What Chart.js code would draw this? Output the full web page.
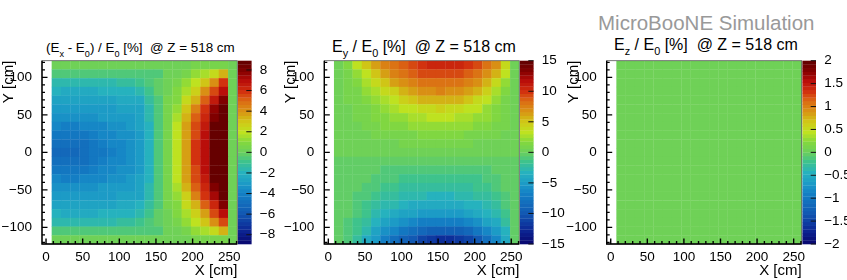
<!DOCTYPE html>
<html>
<head>
<meta charset="utf-8">
<script src="https://cdn.jsdelivr.net/npm/chart.js@4"></script>
<style>
html, body {margin:0; padding:0; background:#fff; width:847px; height:280px; overflow:hidden;}
canvas {position:absolute; top:0;}
.t {position:absolute; white-space:nowrap; font-family:"Liberation Sans", sans-serif; color:#000; line-height:1;}
.t sub {font-size:68%; line-height:0; vertical-align:baseline; position:relative; top:5px;}
</style>
</head>
<body>
<div class="t" style="left:598px;top:13px;font-size:20.5px;color:#999">MicroBooNE Simulation</div>
<div class="t" style="left:46px;top:41px;font-size:13.4px">(E<sub>x</sub> - E<sub>0</sub>) / E<sub>0</sub> [%]&nbsp; @ Z = 518 cm</div>
<div class="t" style="left:332px;top:39px;font-size:16px">E<sub>y</sub> / E<sub>0</sub> [%]&nbsp; @ Z = 518 cm</div>
<div class="t" style="left:614px;top:37px;font-size:16px">E<sub>z</sub> / E<sub>0</sub> [%]&nbsp; @ Z = 518 cm</div>
<canvas id="c0" width="282" height="280" style="left:0"></canvas>
<canvas id="c1" width="283" height="280" style="left:282px"></canvas>
<canvas id="c2" width="282" height="280" style="left:565px"></canvas>
<script>
//bin low edges in cm
const xBins = [7.7,20.4,33.0,45.7,58.4,71.0,83.7,96.4,109.0,121.7,134.4,147.0,159.7,172.4,185.0,197.7,210.4,223.0,235.7,248.4];
const xBinWidth = 12.66;
const yBins = [-122.2,-110.6,-99,-87.3,-75.7,-64,-52.4,-40.7,-29.1,-17.5,-5.8,5.8,17.5,29.1,40.7,52.4,64,75.7,87.3,99,110.6];
const yBinWidth = 11.64;

//cell values in percent, first row is the top of the picture
const exValues = [
[0.2,0.2,0.2,0.2,0.2,0.2,0.2,0.2,0.2,0.2,0.2,0.2,0.2,0.3,0.3,0.4,0.5,0.6,0.6,0.2],
[-0.7,-0.7,-0.7,-0.7,-0.7,-0.7,-0.7,-0.7,-0.7,-0.6,-0.5,-0.4,0.0,0.3,0.7,1.1,1.6,2.3,3.5,0.2],
[-1.6,-1.6,-1.7,-1.7,-1.7,-1.6,-1.5,-1.4,-1.3,-1.0,-0.6,-0.2,0.2,0.6,1.2,2.0,3.0,4.2,5.7,0.2],
[-2.1,-2.2,-2.2,-2.2,-2.2,-2.1,-2.1,-2.0,-1.9,-1.6,-1.0,-0.3,0.3,0.8,1.6,2.7,4.0,5.5,6.8,0.2],
[-2.6,-2.7,-2.7,-2.7,-2.6,-2.6,-2.5,-2.4,-2.3,-2.2,-1.4,-0.4,0.4,1.0,2.3,3.5,5.2,6.5,8.0,0.3],
[-3.0,-3.1,-3.1,-3.0,-3.0,-2.9,-2.9,-2.8,-2.7,-2.5,-1.6,-0.5,0.5,1.3,2.9,4.5,6.0,7.5,8.7,0.3],
[-3.4,-3.5,-3.5,-3.4,-3.3,-3.2,-3.1,-3.0,-2.9,-2.7,-1.7,-0.5,0.6,1.6,3.3,5.0,6.4,8.1,9.0,0.3],
[-3.9,-4.0,-4.0,-3.9,-3.7,-3.6,-3.5,-3.3,-3.1,-2.8,-1.8,-0.6,0.6,1.9,3.7,5.4,6.7,8.6,9.0,0.3],
[-4.4,-4.5,-4.5,-4.3,-4.1,-3.9,-3.7,-3.5,-3.3,-2.9,-1.9,-0.6,0.7,2.0,3.8,5.6,6.9,9.0,9.0,0.3],
[-4.8,-4.9,-4.9,-4.7,-4.4,-4.2,-3.9,-3.7,-3.4,-2.9,-1.9,-0.6,0.7,2.1,3.9,5.7,7.0,9.0,9.0,0.3],
[-5.0,-5.1,-5.1,-4.9,-4.6,-4.3,-4.0,-3.7,-3.4,-2.9,-1.9,-0.6,0.7,2.1,3.9,5.7,7.0,9.0,9.0,0.3],
[-4.8,-4.9,-4.9,-4.7,-4.4,-4.2,-3.9,-3.7,-3.4,-2.9,-1.9,-0.6,0.7,2.1,3.9,5.7,7.0,9.0,9.0,0.3],
[-4.4,-4.5,-4.5,-4.3,-4.1,-3.9,-3.7,-3.5,-3.3,-2.9,-1.9,-0.6,0.7,2.0,3.8,5.6,6.9,9.0,9.0,0.3],
[-3.9,-4.0,-4.0,-3.9,-3.7,-3.6,-3.5,-3.3,-3.1,-2.8,-1.8,-0.6,0.6,1.9,3.7,5.4,6.7,8.6,9.0,0.3],
[-3.4,-3.5,-3.5,-3.4,-3.3,-3.2,-3.1,-3.0,-2.9,-2.7,-1.7,-0.5,0.6,1.6,3.3,5.0,6.4,8.0,8.9,0.3],
[-3.0,-3.1,-3.1,-3.0,-3.0,-2.9,-2.9,-2.8,-2.7,-2.5,-1.6,-0.5,0.5,1.3,2.8,4.3,5.9,7.4,8.6,0.3],
[-2.6,-2.7,-2.7,-2.7,-2.6,-2.6,-2.5,-2.4,-2.3,-2.1,-1.4,-0.4,0.4,1.0,2.2,3.4,5.0,6.4,8.0,0.3],
[-2.1,-2.2,-2.2,-2.2,-2.2,-2.1,-2.1,-2.0,-1.9,-1.6,-1.0,-0.3,0.3,0.8,1.5,2.6,3.9,5.4,6.8,0.2],
[-1.6,-1.6,-1.7,-1.7,-1.7,-1.6,-1.5,-1.4,-1.3,-1.0,-0.6,-0.2,0.2,0.6,1.2,1.9,2.9,4.1,5.6,0.2],
[-0.7,-0.7,-0.7,-0.7,-0.7,-0.7,-0.7,-0.7,-0.7,-0.6,-0.5,-0.4,0.0,0.3,0.7,1.1,1.6,2.3,3.4,0.2],
[0.2,0.2,0.2,0.2,0.2,0.2,0.2,0.2,0.2,0.2,0.2,0.2,0.2,0.3,0.3,0.4,0.5,0.6,0.6,0.2]
];
const eyValues = [
[0.5,1.5,3.0,5.0,6.0,7.5,8.0,8.6,9.2,9.7,10.3,10.6,10.6,10.3,9.9,9.1,8.0,6.8,3.8,0.5],
[0.4,1.0,2.0,3.3,5.0,6.3,7.2,8.0,8.5,9.0,9.2,9.3,9.2,9.0,8.5,8.0,7.0,5.5,3.0,0.5],
[0.3,0.8,1.5,2.6,3.6,5.0,6.0,7.0,7.6,8.0,8.2,8.3,8.2,8.0,7.5,6.8,5.6,3.8,2.0,0.4],
[0.3,0.7,1.2,2.0,2.8,3.6,4.6,5.6,6.4,6.9,7.1,7.2,7.1,6.8,6.2,5.4,4.2,2.8,1.5,0.3],
[0.3,0.6,1.0,1.6,2.2,2.8,3.4,4.2,4.9,5.5,5.8,5.9,5.8,5.4,4.8,4.0,3.1,2.2,1.2,0.3],
[0.2,0.5,0.8,1.2,1.7,2.2,2.7,3.1,3.5,3.9,4.1,4.2,4.1,3.9,3.5,3.0,2.4,1.7,1.0,0.3],
[0.2,0.4,0.7,1.0,1.3,1.7,2.0,2.4,2.6,2.8,3.0,3.0,3.0,2.8,2.5,2.2,1.8,1.3,0.8,0.2],
[0.2,0.3,0.5,0.8,1.0,1.3,1.5,1.7,1.9,2.0,2.1,2.1,2.1,2.0,1.8,1.6,1.3,1.0,0.6,0.2],
[0.1,0.2,0.4,0.5,0.7,0.9,1.0,1.1,1.2,1.3,1.4,1.4,1.4,1.3,1.2,1.1,0.9,0.7,0.4,0.2],
[0.1,0.1,0.2,0.3,0.4,0.5,0.5,0.6,0.6,0.7,0.7,0.7,0.7,0.6,0.6,0.5,0.4,0.3,0.2,0.1],
[0.0,0.0,0.0,0.0,0.0,0.0,0.0,0.0,0.0,0.0,0.0,0.0,0.0,0.0,0.0,0.0,0.0,0.0,0.0,0.0],
[-0.1,-0.1,-0.2,-0.3,-0.3,-0.4,-0.4,-0.5,-0.5,-0.5,-0.6,-0.6,-0.6,-0.5,-0.5,-0.4,-0.4,-0.3,-0.2,-0.1],
[-0.1,-0.2,-0.3,-0.4,-0.6,-0.7,-0.8,-0.9,-1.0,-1.1,-1.2,-1.2,-1.2,-1.1,-1.0,-0.9,-0.7,-0.5,-0.3,-0.1],
[-0.2,-0.3,-0.4,-0.6,-0.8,-1.0,-1.2,-1.4,-1.6,-1.7,-1.8,-1.8,-1.8,-1.7,-1.5,-1.3,-1.1,-0.8,-0.4,-0.2],
[-0.2,-0.3,-0.6,-0.9,-1.2,-1.4,-1.7,-2.0,-2.2,-2.3,-2.4,-2.4,-2.4,-2.3,-2.1,-1.8,-1.5,-1.1,-0.6,-0.2],
[-0.2,-0.4,-0.8,-1.2,-1.6,-2.0,-2.4,-2.7,-2.9,-3.0,-3.1,-3.1,-3.1,-3.0,-2.8,-2.4,-2.0,-1.5,-0.8,-0.3],
[-0.3,-0.5,-0.9,-1.5,-2.0,-2.5,-3.0,-3.4,-3.7,-3.9,-4.0,-4.0,-4.0,-3.9,-3.6,-3.2,-2.7,-2.0,-1.2,-0.3],
[-0.3,-0.6,-1.1,-1.8,-2.6,-3.3,-3.9,-4.4,-4.8,-5.1,-5.3,-5.3,-5.3,-5.1,-4.7,-4.2,-3.5,-2.6,-1.6,-0.4],
[-0.3,-0.7,-1.4,-2.4,-3.4,-4.4,-5.2,-5.8,-6.3,-6.7,-7.0,-7.1,-7.0,-6.7,-6.2,-5.6,-4.8,-3.7,-2.2,-0.4],
[-0.3,-0.9,-1.7,-3.0,-4.3,-5.5,-6.5,-7.4,-8.1,-8.8,-9.4,-9.6,-9.5,-9.2,-8.6,-7.7,-6.5,-5.0,-3.1,-0.5],
[-0.4,-1.0,-2.4,-3.8,-5.4,-6.8,-8.0,-9.2,-10.2,-11.0,-11.8,-12.3,-12.4,-12.0,-11.2,-9.9,-8.3,-6.4,-3.8,-0.6]
];
const ezValues = [
[0,0,0,0,0,0,0,0,0,0,0,0,0,0,0,0,0,0,0,0],
[0,0,0,0,0,0,0,0,0,0,0,0,0,0,0,0,0,0,0,0],
[0,0,0,0,0,0,0,0,0,0,0,0,0,0,0,0,0,0,0,0],
[0,0,0,0,0,0,0,0,0,0,0,0,0,0,0,0,0,0,0,0],
[0,0,0,0,0,0,0,0,0,0,0,0,0,0,0,0,0,0,0,0],
[0,0,0,0,0,0,0,0,0,0,0,0,0,0,0,0,0,0,0,0],
[0,0,0,0,0,0,0,0,0,0,0,0,0,0,0,0,0,0,0,0],
[0,0,0,0,0,0,0,0,0,0,0,0,0,0,0,0,0,0,0,0],
[0,0,0,0,0,0,0,0,0,0,0,0,0,0,0,0,0,0,0,0],
[0,0,0,0,0,0,0,0,0,0,0,0,0,0,0,0,0,0,0,0],
[0,0,0,0,0,0,0,0,0,0,0,0,0,0,0,0,0,0,0,0],
[0,0,0,0,0,0,0,0,0,0,0,0,0,0,0,0,0,0,0,0],
[0,0,0,0,0,0,0,0,0,0,0,0,0,0,0,0,0,0,0,0],
[0,0,0,0,0,0,0,0,0,0,0,0,0,0,0,0,0,0,0,0],
[0,0,0,0,0,0,0,0,0,0,0,0,0,0,0,0,0,0,0,0],
[0,0,0,0,0,0,0,0,0,0,0,0,0,0,0,0,0,0,0,0],
[0,0,0,0,0,0,0,0,0,0,0,0,0,0,0,0,0,0,0,0],
[0,0,0,0,0,0,0,0,0,0,0,0,0,0,0,0,0,0,0,0],
[0,0,0,0,0,0,0,0,0,0,0,0,0,0,0,0,0,0,0,0],
[0,0,0,0,0,0,0,0,0,0,0,0,0,0,0,0,0,0,0,0],
[0,0,0,0,0,0,0,0,0,0,0,0,0,0,0,0,0,0,0,0]
];
const zLimits = [8.9, 15, 2];
const zSteps = [2, 5, 0.5];

//Palette colours and where they sit from bottom to top of the colour bar
const PALETTE = [[8,6,110],[12,40,150],[18,88,178],[20,130,198],[28,155,198],[38,178,190],[62,195,140],[107,208,92],[130,216,62],[190,226,32],[208,200,22],[216,150,20],[220,108,20],[210,50,15],[185,14,10],[135,0,0],[95,0,0]];
const PALETTE_POS = [0,0.08,0.167,0.28,0.33,0.39,0.45,0.5,0.556,0.61,0.667,0.72,0.78,0.83,0.89,0.94,1];
const N_BANDS = 50;

function bandColor(t) {
    //the palette is cut in N_BANDS steps, like the root colour bar
    var k = Math.min(N_BANDS - 1, Math.max(0, Math.floor(t * N_BANDS)));
    var p = (k + 0.5) / N_BANDS;
    var i = 0;
    while (i < PALETTE.length - 2 && PALETTE_POS[i + 1] < p) i++;
    var f = (p - PALETTE_POS[i]) / (PALETTE_POS[i + 1] - PALETTE_POS[i]);
    var c = [0, 1, 2].map(function (n) {return Math.round(PALETTE[i][n] + (PALETTE[i + 1][n] - PALETTE[i][n]) * f);});
    return "rgb(" + c.join(",") + ")";
}

//draws the cells and the colour bar through the chart's scales
const heatPlugin = {
    id: "heat",
    afterDatasetsDraw: function (chart) {
        var ctx = chart.ctx, x = chart.scales.x, y = chart.scales.y, z = chart.scales.z;
        var a = chart.chartArea;
        ctx.save();
        ctx.beginPath();
        ctx.rect(a.left, a.top, a.right - a.left, a.bottom - a.top);
        ctx.clip();
        chart.data.datasets[0].data.forEach(function (p) {
            var left = x.getPixelForValue(p.x), right = x.getPixelForValue(p.x + xBinWidth);
            var top = y.getPixelForValue(p.y + yBinWidth), bottom = y.getPixelForValue(p.y);
            ctx.fillStyle = bandColor((p.v - z.min) / (z.max - z.min));
            ctx.fillRect(left, top, right - left + 0.3, bottom - top + 0.3);
        });
        ctx.restore();
        for (var k = 0; k < N_BANDS; k++) {
            var lo = z.min + (z.max - z.min) * k / N_BANDS, hi = z.min + (z.max - z.min) * (k + 1) / N_BANDS;
            ctx.fillStyle = bandColor((k + 0.5) / N_BANDS);
            ctx.fillRect(z.left + 0.7, z.getPixelForValue(hi), 13.6, z.getPixelForValue(lo) - z.getPixelForValue(hi) + 0.3);
        }
    },
    afterDraw: function (chart) {
        var ctx = chart.ctx, a = chart.chartArea, x = chart.scales.x, y = chart.scales.y, z = chart.scales.z;
        ctx.save();
        ctx.strokeStyle = "#555";
        ctx.lineWidth = 0.8;
        ctx.strokeRect(a.left, a.top, a.right - a.left, a.bottom - a.top);
        ctx.strokeStyle = "#000";
        ctx.lineWidth = 1.4;
        ctx.beginPath();
        ctx.moveTo(a.left, a.top);
        ctx.lineTo(a.left, a.bottom);
        ctx.lineTo(a.right, a.bottom);
        //inward ticks every 10 cm, long ones every 50
        for (var v = 0; v <= 260; v += 10) {
            var px = x.getPixelForValue(v);
            ctx.moveTo(px, a.bottom);
            ctx.lineTo(px, a.bottom - (v % 50 === 0 ? 5.5 : 3));
        }
        for (var w = -120; w <= 120; w += 10) {
            var py = y.getPixelForValue(w);
            ctx.moveTo(a.left, py);
            ctx.lineTo(a.left + (w % 50 === 0 ? 5.5 : 3), py);
        }
        ctx.stroke();
        ctx.lineWidth = 1;
        ctx.strokeStyle = "#111";
        ctx.beginPath();
        z.ticks.forEach(function (t) {
            var pz = z.getPixelForValue(t.value);
            ctx.moveTo(z.left + 14.3, pz);
            ctx.lineTo(z.left + 9, pz);
        });
        ctx.stroke();
        ctx.restore();
    }
};

function signed(v) {
    return String(v).replace("-", "\u2212");
}

function makePanel(id, values, zLimit, zStep, yWidth, zWidth) {
    var points = [];
    values.forEach(function (row, r) {
        row.forEach(function (v, c) {
            points.push({x: xBins[c], y: yBins[yBins.length - 1 - r], v: v});
        });
    });
    var tickFont = {family: "Liberation Sans", size: 13.5};
    var titleFont = {family: "Liberation Sans", size: 15};
    return new Chart(document.getElementById(id), {
        type: "scatter",
        data: {datasets: [{data: points, pointRadius: 0}]},
        plugins: [heatPlugin],
        options: {
            responsive: false,
            animation: false,
            layout: {padding: {top: 60.7, left: 0, right: 0, bottom: 0}},
            plugins: {legend: {display: false}, tooltip: {enabled: false}, title: {display: false}},
            scales: {
                x: {
                    type: "linear", min: -5.5, max: 261,
                    grid: {display: false}, border: {display: false},
                    afterFit: function (s) {s.height = 36;},
                    title: {display: true, text: "X [cm]", align: "end", color: "#000", font: titleFont, padding: 0},
                    ticks: {stepSize: 50, includeBounds: false, color: "#000", font: tickFont, padding: -3, maxRotation: 0, autoSkip: false, callback: signed}
                },
                y: {
                    type: "linear", min: -122.2, max: 122.2,
                    grid: {display: false}, border: {display: false},
                    afterFit: function (s) {s.width = yWidth;},
                    title: {display: true, text: "Y [cm]", align: "end", color: "#000", font: titleFont, padding: 0},
                    ticks: {stepSize: 50, includeBounds: false, color: "#000", font: tickFont, padding: 2, autoSkip: false, callback: signed}
                },
                z: {
                    type: "linear", position: "right", min: -zLimit, max: zLimit,
                    grid: {display: false}, border: {display: false},
                    afterFit: function (s) {s.width = zWidth;},
                    ticks: {stepSize: zStep, includeBounds: false, color: "#000", font: tickFont, padding: 14.5, autoSkip: false, callback: signed}
                }
            }
        }
    });
}

makePanel("c0", exValues, zLimits[0], zSteps[0], 42, 44.7);
makePanel("c1", eyValues, zLimits[1], zSteps[1], 42.3, 45.7);
makePanel("c2", ezValues, zLimits[2], zSteps[2], 41.7, 45.3);
</script>
</body>
</html>
